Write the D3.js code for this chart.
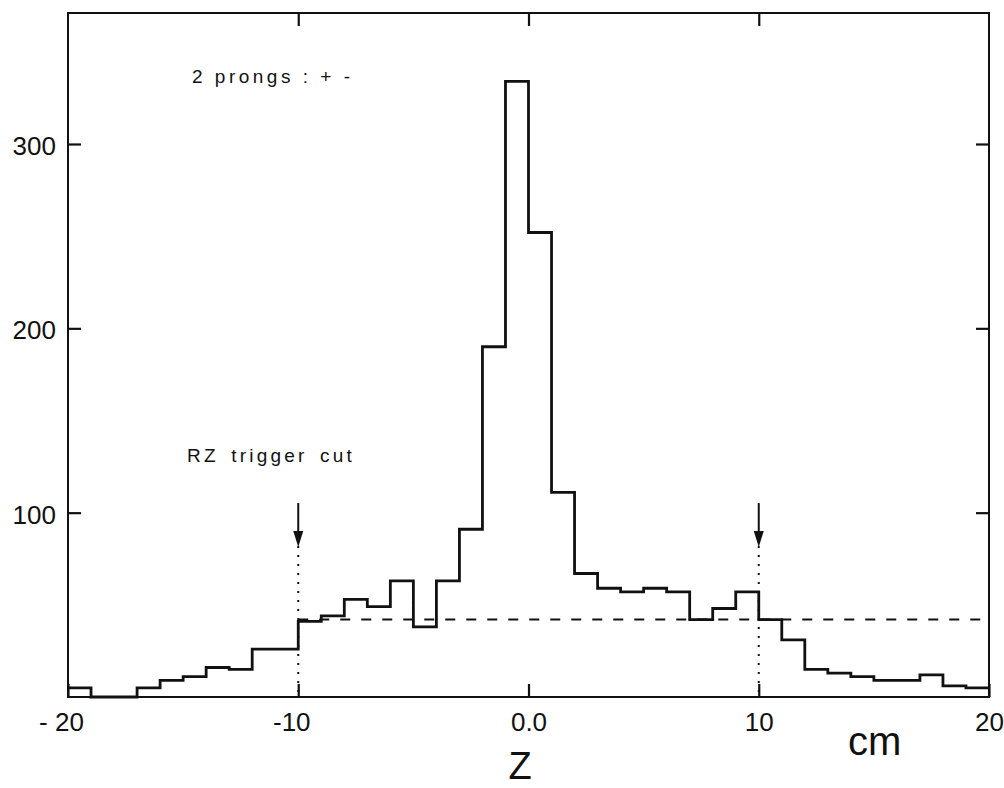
<!DOCTYPE html>
<html>
<head>
<meta charset="utf-8">
<script src="https://cdn.jsdelivr.net/npm/d3@7"></script>
<style>
  html, body { margin: 0; padding: 0; background: #fff; }
  svg { display: block; }
  text { font-family: "Liberation Sans", Arial, sans-serif; fill: #111; }
</style>
</head>
<body>
<svg id="chart" width="1004" height="788"></svg>
<script>
// ---- Data ----
// Lower bin edges (cm), bin width 1 cm
const binStarts = d3.range(-20, 20);
// Counts per 1 cm bin of Z, 2 prongs (+ -)
const counts = [5, 0, 0, 5, 9, 11, 16, 15, 26, 26,
                41, 44, 53, 49, 63, 38, 63, 91, 190, 334,
                252, 111, 67, 59, 57, 59, 57, 42, 48, 57,
                42, 31, 15, 13, 11, 9, 9, 12, 6, 5];
const xTickValues = [-20, -10, 0, 10, 20];
const xTickLabels = ["- 20", "-10", "0.0", "10", "20"];
const yTickValues = [100, 200, 300];
const yTickLabels = ["100", "200", "300"];
const cutPositions = [-10, 10];
const backgroundLevel = [42];
const annotations = ["2 prongs : + -", "RZ trigger cut"];
const axisTitles = ["Z", "cm"];

// ---- Layout ----
const svg = d3.select("#chart");
const mLeft = 68, mRight = 989, mTop = 13, mBottom = 697;

const x = d3.scaleLinear().domain([-20, 20]).range([mLeft, mRight]);
const y = d3.scaleLinear().domain([0, 300]).range([mBottom, 144]);

svg.append("rect").attr("width", 1004).attr("height", 788).attr("fill", "#fff");

// ---- Axes (ticks pointing inward) ----
const tickLen = 13;
const fmtX = d => xTickLabels[xTickValues.indexOf(d)];
const fmtY = d => yTickLabels[yTickValues.indexOf(d)];

const gBottom = svg.append("g").attr("transform", `translate(0,${mBottom})`)
  .call(d3.axisBottom(x).tickValues(xTickValues).tickFormat(fmtX)
        .tickSizeInner(-tickLen).tickSizeOuter(0).tickPadding(16));
gBottom.selectAll("text")
  .attr("font-size", 26)
  .attr("dx", d => d < 0 ? -7 : 0)
  .attr("dy", "0.71em");

const gLeft = svg.append("g").attr("transform", `translate(${mLeft},0)`)
  .call(d3.axisLeft(y).tickValues(yTickValues).tickFormat(fmtY)
        .tickSizeInner(-tickLen).tickSizeOuter(0).tickPadding(12));
gLeft.selectAll("text").attr("font-size", 26).attr("dy", "0.4em");

svg.append("g").attr("transform", `translate(0,${mTop})`)
  .call(d3.axisTop(x).tickValues([-10, 0, 10]).tickFormat("")
        .tickSizeInner(-tickLen).tickSizeOuter(0));

svg.append("g").attr("transform", `translate(${mRight},0)`)
  .call(d3.axisRight(y).tickValues(yTickValues).tickFormat("")
        .tickSizeInner(-tickLen).tickSizeOuter(0));

svg.selectAll(".domain").remove();
svg.selectAll(".tick line").attr("stroke", "#111").attr("stroke-width", 2.2);
svg.selectAll(".tick text").attr("fill", "#111")
  .attr("font-family", "Liberation Sans, Arial, sans-serif");

// Frame
svg.append("rect")
  .attr("x", mLeft).attr("y", mTop)
  .attr("width", mRight - mLeft).attr("height", mBottom - mTop)
  .attr("fill", "none").attr("stroke", "#111").attr("stroke-width", 2);

// ---- Background dashed level ----
svg.append("line")
  .attr("x1", x(-10)).attr("x2", x(20))
  .attr("y1", y(backgroundLevel[0])).attr("y2", y(backgroundLevel[0]))
  .attr("stroke", "#111").attr("stroke-width", 2)
  .attr("stroke-dasharray", "10,11");

// ---- Trigger cut markers ----
cutPositions.forEach(c => {
  const cx = x(c);
  svg.append("line")
    .attr("x1", cx).attr("x2", cx).attr("y1", 546).attr("y2", mBottom)
    .attr("stroke", "#111").attr("stroke-width", 2)
    .attr("stroke-dasharray", "2,7");
  svg.append("line")
    .attr("x1", cx).attr("x2", cx).attr("y1", 503).attr("y2", 534)
    .attr("stroke", "#111").attr("stroke-width", 2);
  svg.append("path")
    .attr("d", `M${cx - 5},531 L${cx + 5},531 L${cx},547 Z`)
    .attr("fill", "#111");
});

// ---- Histogram (step outline) ----
const pts = binStarts.map((b, i) => [b, counts[i]]);
pts.push([20, counts[counts.length - 1]]);
const stepLine = d3.line()
  .x(d => x(d[0])).y(d => y(d[1]))
  .curve(d3.curveStepAfter);
svg.append("path")
  .datum(pts)
  .attr("d", stepLine)
  .attr("fill", "none").attr("stroke", "#111")
  .attr("stroke-width", 2.8).attr("stroke-linejoin", "miter");

// ---- Annotations ----
svg.append("text")
  .attr("x", 192).attr("y", 83)
  .attr("font-size", 19).attr("letter-spacing", 3.5)
  .text(annotations[0]);

svg.append("text")
  .attr("x", 187).attr("y", 462)
  .attr("font-size", 19).attr("letter-spacing", 3.2).attr("word-spacing", 4)
  .text(annotations[1]);

// ---- Axis titles ----
svg.append("text")
  .attr("x", 520).attr("y", 779).attr("text-anchor", "middle")
  .attr("font-size", 38)
  .text(axisTitles[0]);

svg.append("text")
  .attr("x", 848).attr("y", 755)
  .attr("font-size", 40)
  .text(axisTitles[1]);
</script>
</body>
</html>
